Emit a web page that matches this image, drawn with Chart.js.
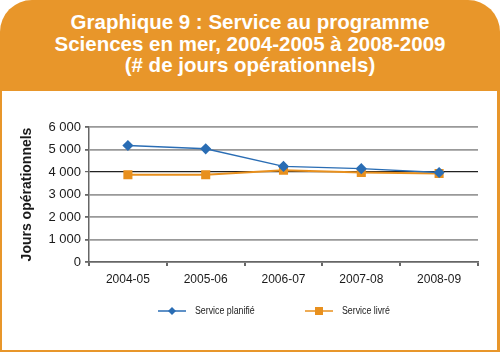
<!DOCTYPE html>
<html>
<head>
<meta charset="utf-8">
<script src="https://cdn.jsdelivr.net/npm/chart.js@4/dist/chart.umd.min.js"></script>
<style>
  html, body { margin: 0; padding: 0; width: 500px; height: 352px; overflow: hidden; background: #fff; }
  #header { position: absolute; left: 0; top: 0; width: 500px; height: 91px; background: #E8962A;
    border-radius: 32px 32px 0 0; color: #fff; font-family: "Liberation Sans", Arial, sans-serif;
    font-weight: bold; font-size: 20.5px; line-height: 21.5px; text-align: center; box-sizing: border-box; padding-top: 11px; }
  #panel { position: absolute; left: 0; top: 91px; width: 500px; height: 261px; box-sizing: border-box;
    border-left: 2px solid #E8962A; border-right: 3px solid #E8962A; border-bottom: 2px solid #E8962A; }
  #wrap { position: absolute; left: 0; top: 0; width: 500px; height: 352px; }
</style>
</head>
<body>
<div id="header">Graphique 9 : Service au programme<br>Sciences en mer, 2004-2005 à 2008-2009<br>(# de jours opérationnels)</div>
<div id="panel"></div>
<div id="wrap"><canvas id="c" width="500" height="352"></canvas></div>
<script>
const categories = ["2004-05", "2005-06", "2006-07", "2007-08", "2008-09"];
const servicePlanifie = [5180, 5030, 4250, 4150, 3980];
const serviceLivre = [3880, 3880, 4080, 3980, 3930];
const yTicks = [0, 1000, 2000, 3000, 4000, 5000, 6000];

const BLUE = "#2A6DB4";
const ORANGE = "#E8901E";

const legendPlugin = {
  id: "customLegend",
  afterDraw(chart) {
    const ctx = chart.ctx;
    const items = [
      { ds: chart.data.datasets[0], x: 158 },
      { ds: chart.data.datasets[1], x: 305 }
    ];
    const y = 311;
    ctx.save();
    items.forEach(it => {
      ctx.strokeStyle = it.ds.borderColor;
      ctx.lineWidth = 1.5;
      ctx.beginPath();
      ctx.moveTo(it.x, y);
      ctx.lineTo(it.x + 28, y);
      ctx.stroke();
      ctx.fillStyle = it.ds.pointBackgroundColor;
      const cx = it.x + 14;
      if (it.ds.pointStyle === "rectRot") {
        ctx.beginPath();
        ctx.moveTo(cx, y - 4); ctx.lineTo(cx + 4, y); ctx.lineTo(cx, y + 4); ctx.lineTo(cx - 4, y);
        ctx.closePath(); ctx.fill();
      } else {
        ctx.fillRect(cx - 4, y - 4, 8, 8);
      }
      ctx.fillStyle = "#222";
      ctx.font = '10px "Liberation Sans Narrow", "Liberation Sans", sans-serif';
      ctx.textBaseline = "middle";
      ctx.textAlign = "left";
      ctx.save();
      ctx.translate(it.x + 37, y);
      ctx.scale(0.88, 1);
      ctx.fillText(it.ds.label, 0, 0);
      ctx.restore();
    });
    ctx.restore();
  }
};

new Chart(document.getElementById("c"), {
  type: "line",
  data: {
    labels: categories,
    datasets: [
      { label: "Service planifié", data: servicePlanifie, borderColor: BLUE, backgroundColor: BLUE,
        pointBackgroundColor: BLUE, pointBorderColor: BLUE, pointStyle: "rectRot", pointRadius: 4.5,
        borderWidth: 1.5, tension: 0 },
      { label: "Service livré", data: serviceLivre, borderColor: ORANGE, backgroundColor: ORANGE,
        pointBackgroundColor: ORANGE, pointBorderColor: ORANGE, pointStyle: "rect", pointRadius: 5,
        borderWidth: 2, tension: 0 }
    ]
  },
  options: {
    responsive: false,
    animation: false,
    devicePixelRatio: 1,
    layout: { padding: { top: 127, right: 22, bottom: 60, left: 19 } },
    plugins: { legend: { display: false }, tooltip: { enabled: false }, title: { display: false } },
    scales: {
      x: {
        offset: true,
        afterFit(s) { s.height = 30; },
        grid: {
          offset: true,
          drawOnChartArea: true,
          color: ctx => (ctx.index === categories.length ? "#999" : "rgba(0,0,0,0)"),
          lineWidth: 2,
          tickColor: "#666",
          tickLength: 4
        },
        border: { color: "#666", width: 1.5 },
        ticks: { color: "#1a1a1a", font: { family: "Liberation Sans", size: 12 }, padding: 6, maxRotation: 0 }
      },
      y: {
        min: 0, max: 6000,
        afterFit(s) { s.width = 89 - 19; },
        afterBuildTicks(s) { s.ticks = yTicks.map(v => ({ value: v })); },
        grid: {
          color: ctx => (ctx.tick && ctx.tick.value === 4000 ? "#222" : "#999"),
          lineWidth: ctx => (ctx.tick && ctx.tick.value === 4000 ? 1.2 : 1.8),
          tickColor: "#666",
          tickLength: 4
        },
        border: { color: "#666", width: 1.5 },
        ticks: {
          color: "#1a1a1a", font: { family: "Liberation Sans", size: 13 }, padding: 4,
          callback: v => String(v).replace(/\B(?=(\d{3})+(?!\d))/g, " ")
        },
        title: { display: true, text: "Jours opérationnels", color: "#1a1a1a",
          font: { family: "Liberation Sans", size: 14, weight: "bold" }, padding: { top: 0, bottom: 4 } }
      }
    }
  },
  plugins: [legendPlugin]
});
</script>
</body>
</html>
